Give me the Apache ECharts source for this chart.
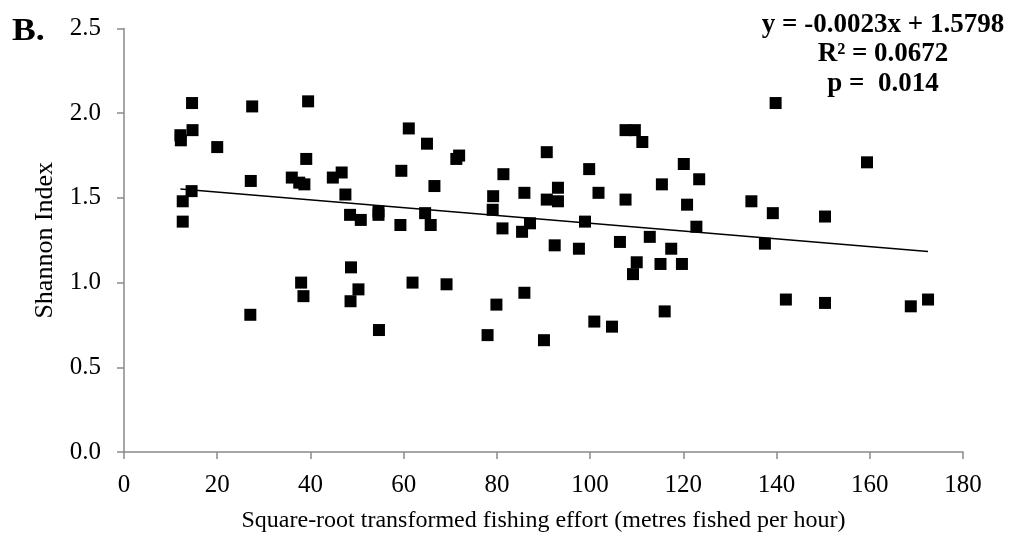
<!DOCTYPE html>
<html>
<head>
<meta charset="utf-8">
<title>Shannon Index vs fishing effort</title>
<script src="https://cdn.jsdelivr.net/npm/echarts@6/dist/echarts.min.js"></script>
<style>
  html, body { margin: 0; padding: 0; background: #ffffff; }
  #chart { width: 1016px; height: 538px; }
</style>
</head>
<body>
<div id="chart"></div>
<script>
// Square-root transformed fishing effort (metres fished per hour)
const effort = [
  12.1, 12.2, 12.6, 12.6, 14.5, 14.7, 14.6, 20.0, 27.2, 27.1,
  27.5, 36.0, 37.6, 38.7, 38.0, 38.5, 39.1, 39.5, 44.8, 46.7,
  47.5, 48.5, 48.7, 48.6, 50.3, 50.8, 54.6, 54.6, 54.7, 59.5,
  59.3, 61.1, 61.9, 64.6, 65.0, 65.8, 66.6, 69.2, 71.3, 71.9,
  78.0, 79.1, 79.2, 79.9, 81.2, 81.4, 85.4, 85.9, 85.9, 87.1,
  90.1, 90.7, 90.7, 92.4, 93.1, 93.1, 97.6, 98.9, 99.8, 100.9,
  101.8, 104.7, 106.4, 107.6, 107.6, 109.6, 109.2, 110.0, 111.2, 112.8,
  115.4, 115.1, 116.0, 117.4, 119.7, 120.1, 120.8, 122.8, 123.4, 134.6,
  137.5, 139.2, 139.8, 142.0, 150.4, 150.4, 159.4, 168.8, 172.5
];

// Shannon diversity index per site
const shannon = [
  1.87, 1.84, 1.48, 1.36, 1.54, 1.90, 2.06, 1.80, 1.60, 0.81,
  2.04, 1.62, 1.59, 1.58, 1.00, 0.92, 1.73, 2.07, 1.62, 1.65,
  1.52, 1.40, 1.09, 0.89, 0.96, 1.37, 1.42, 1.40, 0.72, 1.66,
  1.34, 1.91, 1.00, 1.41, 1.82, 1.34, 1.57, 0.99, 1.73, 1.75,
  0.69, 1.43, 1.51, 0.87, 1.32, 1.64, 1.30, 1.53, 0.94, 1.35,
  0.66, 1.77, 1.49, 1.22, 1.48, 1.56, 1.20, 1.36, 1.67, 0.77,
  1.53, 0.74, 1.24, 1.90, 1.49, 1.90, 1.05, 1.12, 1.83, 1.27,
  1.58, 1.11, 0.83, 1.20, 1.11, 1.70, 1.46, 1.33, 1.61, 1.48,
  1.23, 1.41, 2.06, 0.90, 1.39, 0.88, 1.71, 0.86, 0.90
];

// Linear regression reported for the data
const slope = -0.0023;
const intercept = 1.5798;
const rSquared = '0.0672';
const pValue = '0.014';

const xTicks = [0, 20, 40, 60, 80, 100, 120, 140, 160, 180];
const yTicks = [0.0, 0.5, 1.0, 1.5, 2.0, 2.5];

const points = effort.map((x, i) => [x, shannon[i]]);
const xMin = Math.min(...effort);
const xMax = Math.max(...effort);
const trend = [
  [xMin, intercept + slope * xMin],
  [xMax, intercept + slope * xMax]
];

const serif = '"Liberation Serif", "DejaVu Serif", serif';
const axisGrey = '#8a8a8a';

const chart = echarts.init(document.getElementById('chart'), null, { renderer: 'canvas' });

chart.setOption({
  animation: false,
  backgroundColor: '#ffffff',
  grid: { left: 124, right: 53, top: 28.5, bottom: 85.5, containLabel: false },
  xAxis: {
    type: 'value',
    min: xTicks[0],
    max: xTicks[xTicks.length - 1],
    interval: xTicks[1] - xTicks[0],
    name: 'Square-root transformed fishing effort (metres fished per hour)',
    nameLocation: 'middle',
    nameGap: 57,
    nameTextStyle: { fontFamily: serif, fontSize: 24, color: '#000' },
    axisLine: { show: true, onZero: false, lineStyle: { color: axisGrey, width: 1.5 } },
    axisTick: { show: true, inside: false, length: 7, lineStyle: { color: axisGrey, width: 1.5 } },
    axisLabel: { margin: 21, fontFamily: serif, fontSize: 25, color: '#000' },
    splitLine: { show: false }
  },
  yAxis: {
    type: 'value',
    min: yTicks[0],
    max: yTicks[yTicks.length - 1],
    interval: yTicks[1] - yTicks[0],
    name: 'Shannon Index',
    nameLocation: 'middle',
    nameGap: 66,
    nameTextStyle: { fontFamily: serif, fontSize: 26, color: '#000' },
    axisLine: { show: true, onZero: false, lineStyle: { color: axisGrey, width: 1.5 } },
    axisTick: { show: true, inside: false, length: 7, lineStyle: { color: axisGrey, width: 1.5 } },
    axisLabel: {
      margin: 23,
      fontFamily: serif,
      fontSize: 25,
      color: '#000',
      formatter: v => v.toFixed(1)
    },
    splitLine: { show: false }
  },
  series: [
    {
      type: 'scatter',
      data: points,
      symbol: 'rect',
      symbolSize: 12,
      itemStyle: { color: '#000000', opacity: 1 },
      z: 3
    },
    {
      type: 'line',
      data: trend,
      symbol: 'none',
      lineStyle: { color: '#000000', width: 1.5 },
      z: 2
    }
  ],
  graphic: [
    {
      type: 'text',
      x: 12,
      y: 32,
      scaleX: 1.15,
      style: {
        text: 'B.', font: 'bold 31px ' + serif, fill: '#000',
        textAlign: 'left', textVerticalAlign: 'middle'
      }
    },
    {
      type: 'text',
      x: 883,
      y: 25,
      style: {
        text: 'y = ' + slope.toFixed(4) + 'x + ' + intercept.toFixed(4),
        font: 'bold 27px ' + serif, fill: '#000',
        textAlign: 'center', textVerticalAlign: 'middle'
      }
    },
    {
      type: 'text',
      x: 883,
      y: 54.5,
      style: {
        text: 'R\u00b2 = ' + rSquared,
        font: 'bold 27px ' + serif, fill: '#000',
        textAlign: 'center', textVerticalAlign: 'middle'
      }
    },
    {
      type: 'text',
      x: 883,
      y: 84,
      style: {
        text: 'p =  ' + pValue,
        font: 'bold 27px ' + serif, fill: '#000',
        textAlign: 'center', textVerticalAlign: 'middle'
      }
    }
  ]
});
</script>
</body>
</html>
